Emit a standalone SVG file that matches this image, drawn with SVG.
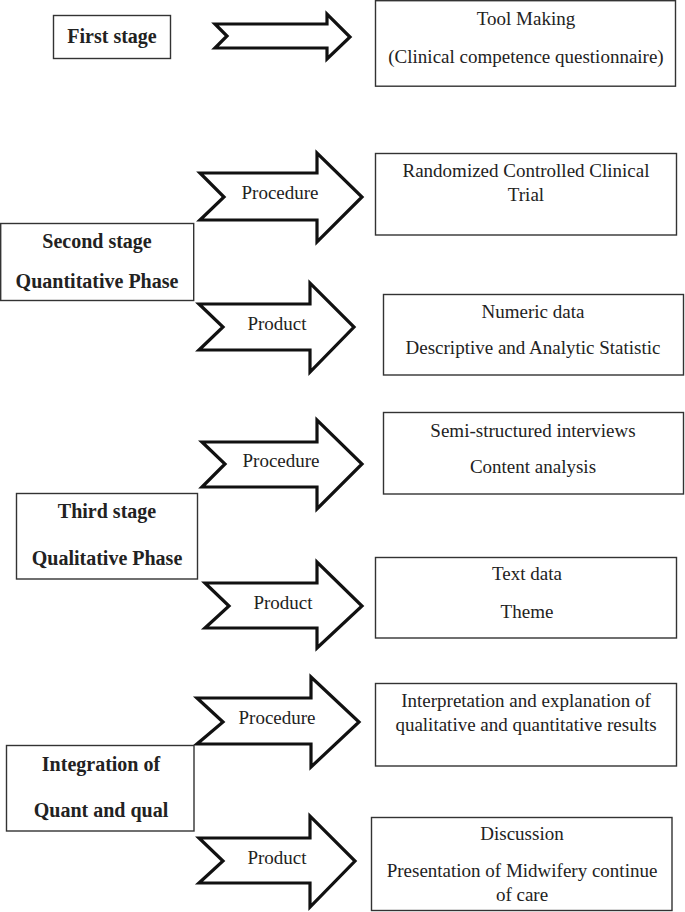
<svg xmlns="http://www.w3.org/2000/svg" width="685" height="912" viewBox="0 0 685 912">
<style>
.box{fill:#fff;stroke:#333;stroke-width:1.4}
.arr{fill:#fff;stroke:#111;stroke-width:3.2;stroke-linejoin:miter}
text{fill:#222;text-anchor:middle}
.t{font-size:19px}
.b{font-size:20px;font-weight:bold}
</style>
<rect width="685" height="912" fill="#fff"/>
<g font-family="Liberation Serif, Tinos, Times New Roman, DejaVu Serif, serif">
<g id="connectors">
<g id="arrow-first"><polygon class="arr" points="215,24 327,24 327,14 350,37 327,59 327,48 215,48 227,36"/></g>
<g id="arrow-2-procedure"><polygon class="arr" points="200,173 317,173 317,153 362,197 317,242 317,220 200,220 224,197"/><text class="t" x="280" y="199">Procedure</text></g>
<g id="arrow-2-product"><polygon class="arr" points="199,304 310,304 310,283 354,327 310,372 310,350 199,350 223,327"/><text class="t" x="277" y="330">Product</text></g>
<g id="arrow-3-procedure"><polygon class="arr" points="202,442 317,442 317,420 362,464 317,509 317,487 202,487 225,464"/><text class="t" x="281" y="467">Procedure</text></g>
<g id="arrow-3-product"><polygon class="arr" points="205,583 317,583 317,562 362,606 317,648 317,628 205,628 229,606"/><text class="t" x="283" y="609">Product</text></g>
<g id="arrow-4-procedure"><polygon class="arr" points="197,698 311,698 311,677 359,722 311,767 311,744 197,744 223,722"/><text class="t" x="277" y="724">Procedure</text></g>
<g id="arrow-4-product"><polygon class="arr" points="199,838 310,838 310,816 355,861 310,907 310,883 199,883 223,861"/><text class="t" x="277" y="864">Product</text></g>
</g>
<g id="first-stage"><rect class="box" x="53.5" y="15.5" width="117" height="43"/><text class="b" x="112" y="43">First stage</text></g>
<g id="tool-making"><rect class="box" x="375.5" y="0.7" width="300" height="85.5"/><text class="t" x="526" y="25">Tool Making</text><text class="t" x="526" y="63">(Clinical competence questionnaire)</text></g>
<g id="second-stage"><rect class="box" x="0.7" y="223.5" width="193" height="77"/><text class="b" x="97" y="248">Second stage</text><text class="b" x="97" y="288">Quantitative Phase</text></g>
<g id="rct"><rect class="box" x="375.5" y="153.5" width="301" height="81.5"/><text class="t" x="526" y="177">Randomized Controlled Clinical</text><text class="t" x="526" y="201">Trial</text></g>
<g id="numeric"><rect class="box" x="383.5" y="294.5" width="300" height="80.5"/><text class="t" x="533" y="318">Numeric data</text><text class="t" x="533" y="354">Descriptive and Analytic Statistic</text></g>
<g id="third-stage"><rect class="box" x="16.5" y="493.5" width="181" height="85.5"/><text class="b" x="107" y="518">Third stage</text><text class="b" x="107" y="565">Qualitative Phase</text></g>
<g id="semi"><rect class="box" x="383.5" y="412.5" width="300" height="81.5"/><text class="t" x="533" y="437">Semi-structured interviews</text><text class="t" x="533" y="473">Content analysis</text></g>
<g id="text-data"><rect class="box" x="375.5" y="557.5" width="301" height="80.5"/><text class="t" x="527" y="580">Text data</text><text class="t" x="527" y="618">Theme</text></g>
<g id="integration"><rect class="box" x="6.5" y="745.5" width="187.5" height="85.5"/><text class="b" x="101" y="771">Integration of</text><text class="b" x="101" y="817">Quant and qual</text></g>
<g id="interpretation"><rect class="box" x="375.5" y="683.5" width="301" height="82.5"/><text class="t" x="526" y="707">Interpretation and explanation of</text><text class="t" x="526" y="731">qualitative and quantitative results</text></g>
<g id="discussion"><rect class="box" x="371.5" y="817.5" width="300.5" height="93"/><text class="t" x="522" y="840">Discussion</text><text class="t" x="522" y="877">Presentation of Midwifery continue</text><text class="t" x="522" y="901">of care</text></g>
</g>
</svg>
